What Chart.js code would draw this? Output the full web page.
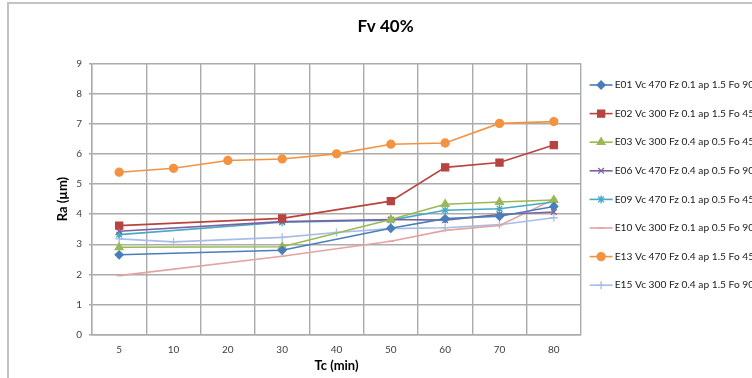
<!DOCTYPE html>
<html>
<head>
<meta charset="utf-8">
<script src="https://cdn.jsdelivr.net/npm/chart.js@4.4.1/dist/chart.umd.min.js"></script>
<style>
  html, body { margin: 0; padding: 0; background: #fff; overflow: hidden; }
  #frame {
    position: absolute; left: 7px; top: 2px;
    width: 760px; height: 376px;
    border-left: 2px solid #c3c3c3; border-top: 2px solid #c3c3c3;
  }
  #wrap { position: absolute; left: 0; top: 0; width: 760px; height: 374px; }
</style>
</head>
<body>
<div id="frame"><div id="wrap"><canvas id="chart"></canvas></div></div>
<script>
// Fv 40% — Ra vs Tc

const categories = ['5', '10', '20', '30', '40', '50', '60', '70', '80'];

const E01 = [2.65, null, null, 2.80, null, 3.53, 3.85, 3.93, 4.25];
const E02 = [3.62, null, null, 3.86, null, 4.43, 5.55, 5.71, 6.29];
const E03 = [2.90, null, null, 2.92, null, 3.82, 4.33, 4.40, 4.47];
const E06 = [3.43, null, null, 3.75, null, 3.82, 3.80, 3.99, 4.07];
const E09 = [3.32, null, null, 3.73, null, 3.80, 4.13, 4.18, 4.40];
const E10 = [1.96, null, null, 2.60, null, 3.10, 3.46, 3.62, 4.49];
const E13 = [5.39, 5.52, 5.78, 5.83, 6.00, 6.32, 6.36, 7.01, 7.07];
const E15 = [3.18, 3.08, null, 3.23, 3.39, 3.52, 3.55, 3.65, 3.88];

const SERIES = [
  { label: 'E01 Vc 470 Fz 0.1 ap 1.5 Fo 90°', data: E01, color: '#4a7ebb', style: 'rectRot', r: 4 },
  { label: 'E02 Vc 300 Fz 0.1 ap 1.5 Fo 45°', data: E02, color: '#b8433f', style: 'rect', r: 5 },
  { label: 'E03 Vc 300 Fz 0.4 ap 0.5 Fo 45°', data: E03, color: '#98b954', style: 'triangle', r: 4.5 },
  { label: 'E06 Vc 470 Fz 0.4 ap 0.5 Fo 90°', data: E06, color: '#7d60a0', style: 'crossRot', r: 4 },
  { label: 'E09 Vc 470 Fz 0.1 ap 0.5 Fo 45°', data: E09, color: '#46aac5', style: 'star', r: 4 },
  { label: 'E10 Vc 300 Fz 0.1 ap 0.5 Fo 90°', data: E10, color: '#e3a3a1', style: 'line', r: 3 },
  { label: 'E13 Vc 470 Fz 0.4 ap 1.5 Fo 45°', data: E13, color: '#f39342', style: 'circle', r: 4 },
  { label: 'E15 Vc 300 Fz 0.4 ap 1.5 Fo 90°', data: E15, color: '#a7bde6', style: 'cross', r: 4 }
];

const GRID = '#ababab';
const FONT = 'Lato, "Open Sans", sans-serif';

// gambar garis + marker legend sendiri (gaya Excel)
const legendMarkers = {
  id: 'legendMarkers',
  afterDraw(chart) {
    const lg = chart.legend;
    if (!lg || !lg.legendHitBoxes) return;
    const ctx = chart.ctx;
    lg.legendHitBoxes.forEach((hb, i) => {
      const s = SERIES[i];
      const cy = hb.top + hb.height / 2;
      ctx.save();
      ctx.strokeStyle = s.color;
      ctx.fillStyle = s.color;
      ctx.lineWidth = 1.6;
      ctx.beginPath();
      ctx.moveTo(hb.left, cy);
      ctx.lineTo(hb.left + 23, cy);
      ctx.stroke();
      ctx.lineWidth = 1.3;
      Chart.helpers.drawPoint(ctx, { pointStyle: s.style, radius: s.r, rotation: 0, borderWidth: 1.3 }, hb.left + 11.5, cy);
      ctx.restore();
    });
  }
};

new Chart(document.getElementById('chart'), {
  type: 'line',
  data: {
    labels: categories,
    datasets: SERIES.map(s => ({
      label: s.label,
      data: s.data,
      borderColor: s.color,
      backgroundColor: s.color,
      borderWidth: 1.6,
      pointStyle: s.style,
      pointRadius: s.r,
      pointBackgroundColor: s.color,
      pointBorderColor: s.color,
      pointBorderWidth: 1.3,
      spanGaps: true,
      tension: 0
    }))
  },
  plugins: [legendMarkers],
  options: {
    responsive: true,
    maintainAspectRatio: false,
    animation: false,
    layout: { padding: { left: 10, right: 17, top: 0, bottom: 0 } },
    scales: {
      x: {
        offset: true,
        grid: { offset: true, color: GRID, lineWidth: 1.4, drawTicks: false },
        border: { color: GRID, width: 1.4 },
        ticks: { color: '#404040', font: { family: FONT, size: 10 }, padding: 9, maxRotation: 0 },
        title: { display: true, text: 'Tc (min)', color: '#000', font: { family: FONT, size: 13, weight: 'bold' }, padding: { top: 0, bottom: 4 } },
        afterFit(scale) { scale.height = 43.3; }
      },
      y: {
        min: 0,
        max: 9,
        ticks: { stepSize: 1, color: '#404040', font: { family: FONT, size: 10 }, padding: 7 },
        grid: { color: GRID, lineWidth: 1.4, tickLength: 3 },
        border: { color: GRID, width: 1.4 },
        title: { display: true, text: 'Ra (µm)', color: '#000', font: { family: FONT, size: 13, weight: 'bold' }, padding: { top: 36, bottom: 0 } },
        afterFit(scale) { scale.width = 73; }
      }
    },
    plugins: {
      title: {
        display: true,
        text: 'Fv 40%',
        color: '#000',
        font: { family: FONT, size: 17, weight: 'bold' },
        padding: { top: 12, bottom: 27 }
      },
      legend: {
        position: 'right',
        align: 'start',
        maxWidth: 171,
        title: { display: true, text: ' ', font: { family: FONT, size: 10 }, padding: { top: 25, bottom: 25.4 } },
        labels: {
          color: '#1a1a1a',
          font: { family: FONT, size: 10.2 },
          boxWidth: 20,
          boxHeight: 20,
          padding: 8.6,
          generateLabels(chart) {
            return Chart.defaults.plugins.legend.labels.generateLabels(chart).map(item => {
              item.fillStyle = 'rgba(0,0,0,0)';
              item.strokeStyle = 'rgba(0,0,0,0)';
              item.lineWidth = 0;
              return item;
            });
          }
        }
      },
      tooltip: { enabled: false }
    }
  }
});
</script>
</body>
</html>
